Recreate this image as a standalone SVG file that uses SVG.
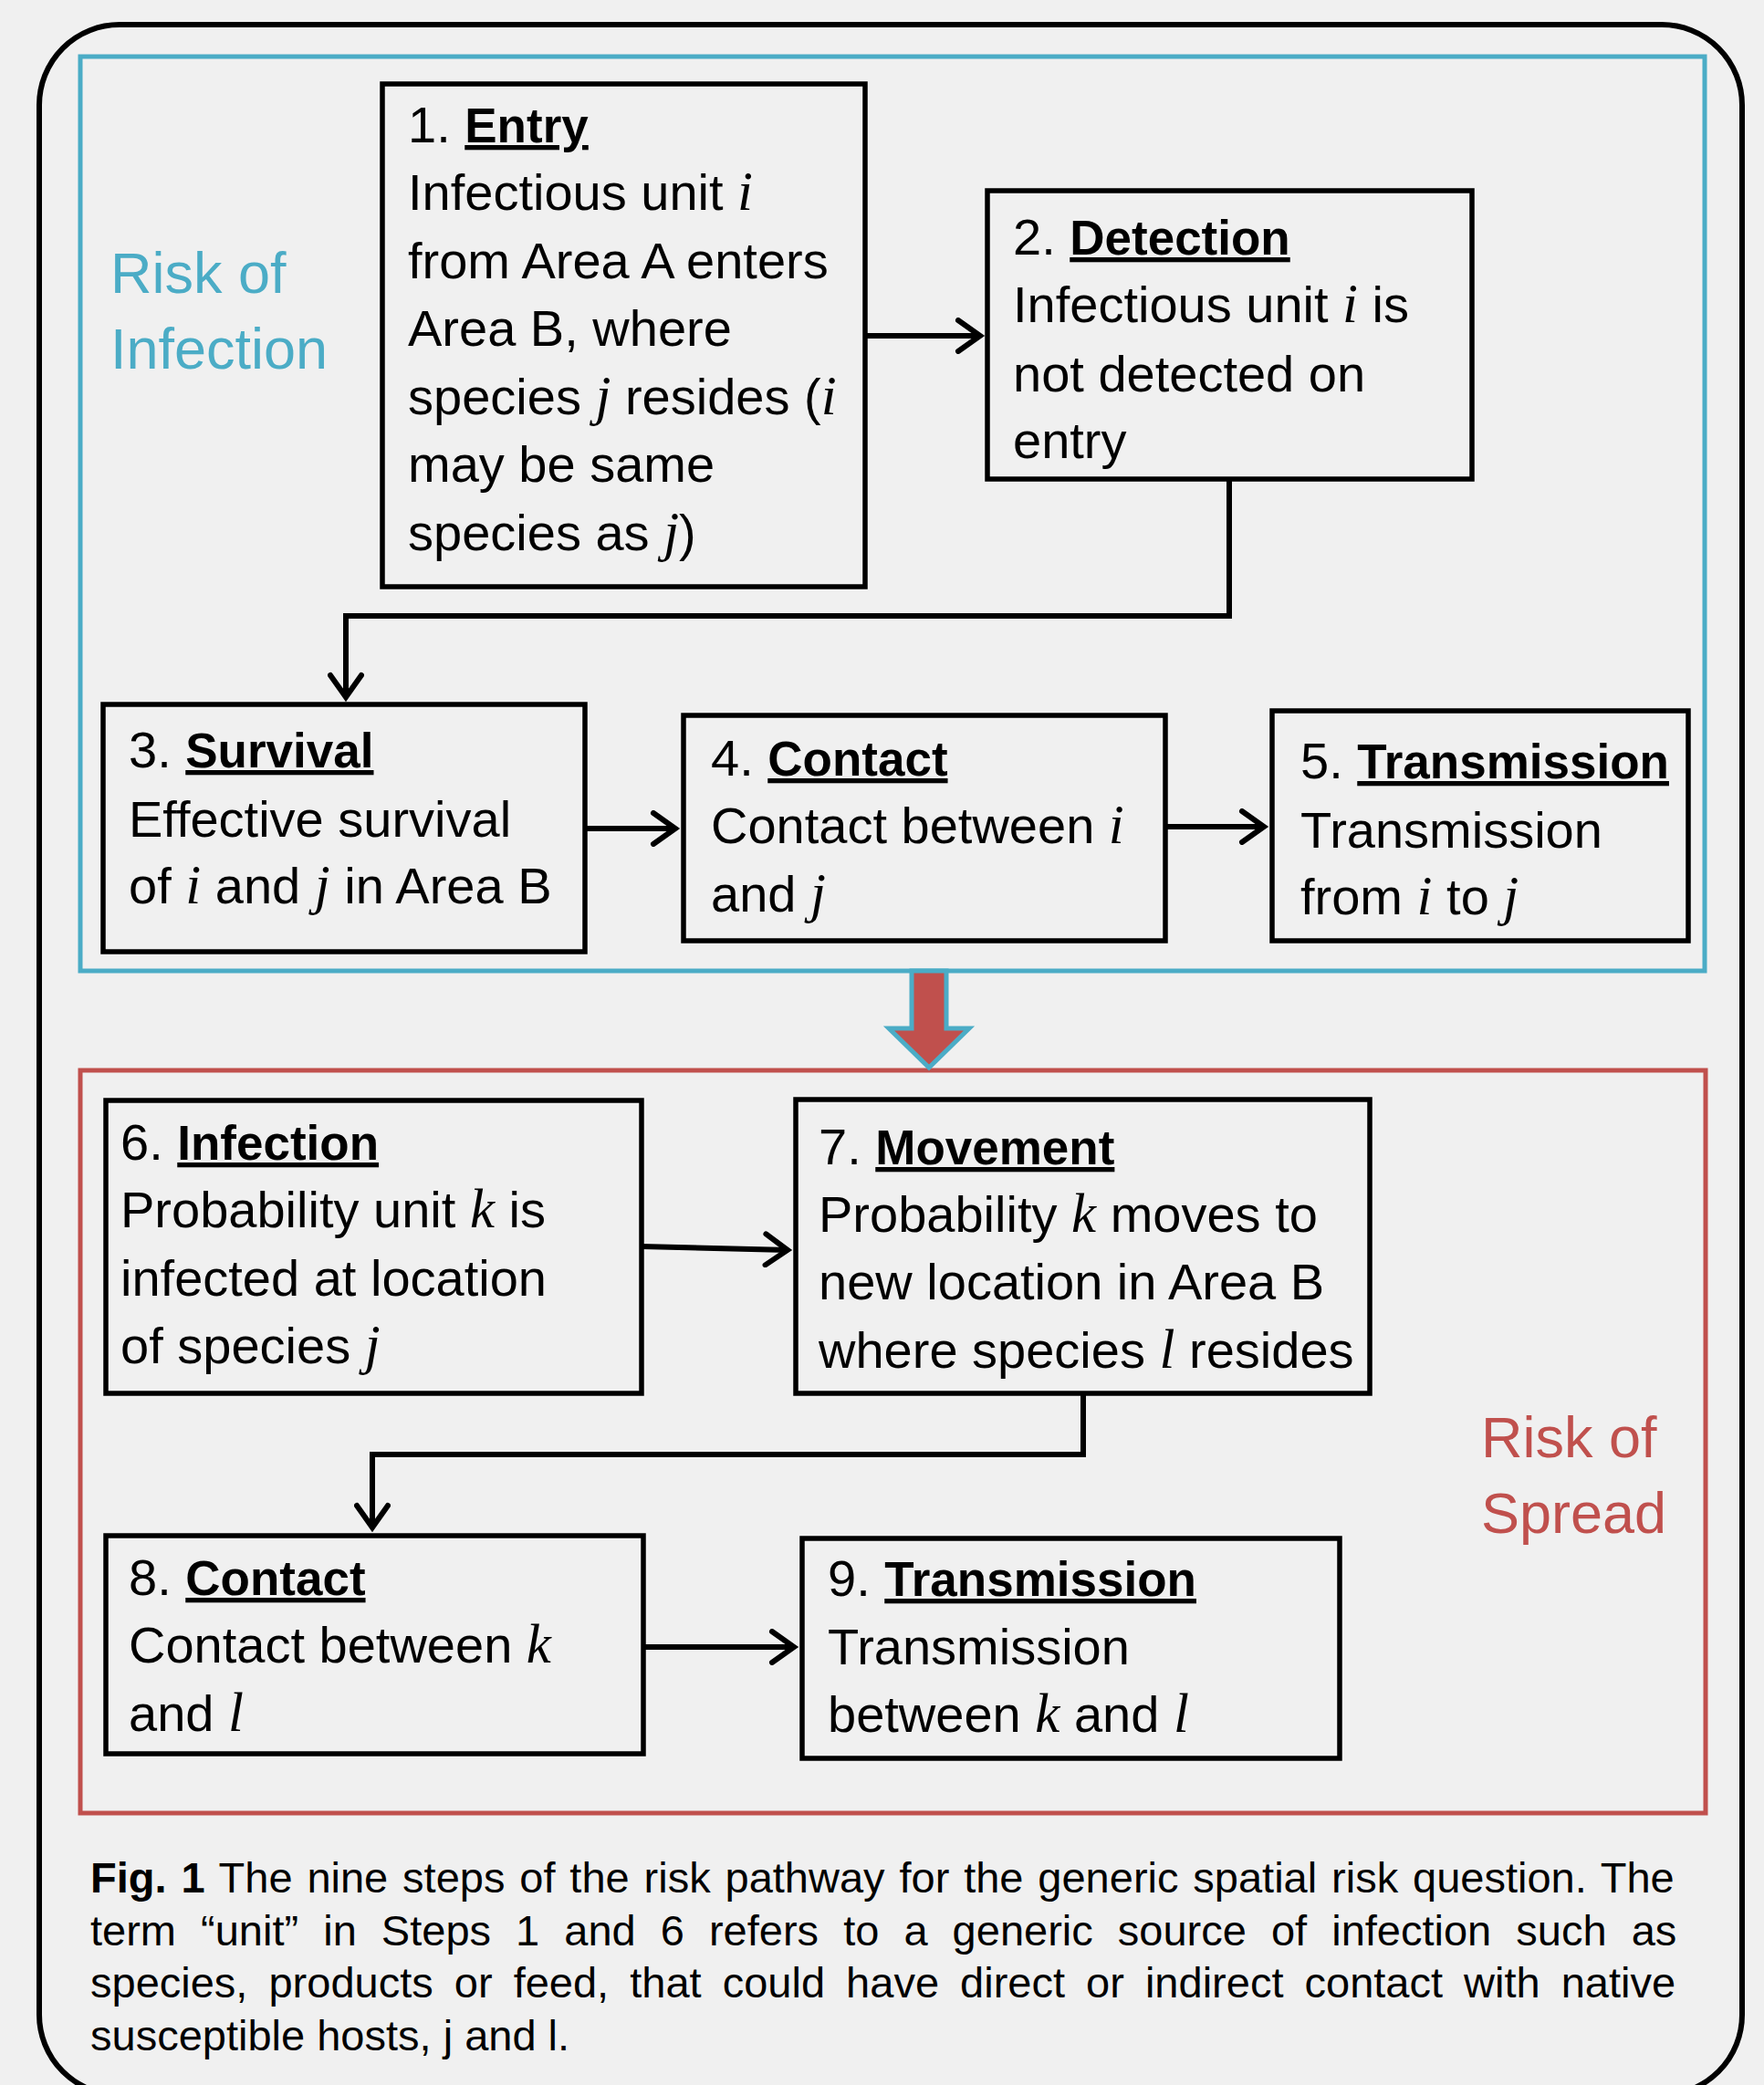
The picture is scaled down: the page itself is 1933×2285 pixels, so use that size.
<svg xmlns="http://www.w3.org/2000/svg" width="1933" height="2285" viewBox="0 0 1933 2285">
<defs>
<style>
.bg{fill:#F0F0F0}
.frame{fill:none;stroke:#000;stroke-width:6}
.blue{fill:none;stroke:#4BACC6;stroke-width:5}
.red{fill:none;stroke:#C0504D;stroke-width:5}
.box{fill:none;stroke:#000;stroke-width:5.5}
.t{font-family:"Liberation Sans",Arial,sans-serif;font-size:56px;fill:#000}
.b{font-weight:bold;text-decoration:underline;font-size:53px}
.v{font-family:"Liberation Serif","Times New Roman",serif;font-style:italic;font-size:61px}
.lbl{font-family:"Liberation Sans",Arial,sans-serif;font-size:63px}
.cap{font-family:"Liberation Sans",Arial,sans-serif;font-size:47px;fill:#000}
.conn{fill:none;stroke:#000;stroke-width:6;stroke-linejoin:miter;marker-end:url(#ah)}
</style>
<marker id="ah" markerUnits="userSpaceOnUse" markerWidth="40" markerHeight="40" viewBox="0 0 40 40" refX="31" refY="20" orient="auto">
<path d="M6,3 L30,20 L6,37" fill="none" stroke="#000" stroke-width="6" stroke-linecap="round" stroke-linejoin="miter"/>
</marker>
</defs>
<rect class="bg" x="0" y="0" width="1933" height="2285"/>
<rect class="frame" x="43" y="27" width="1866" height="2269" rx="88" ry="88"/>

<g id="region-infection">
<rect class="blue" x="88" y="62" width="1780" height="1002"/>
<text class="lbl" fill="#4BACC6"><tspan x="121" y="321">Risk of</tspan><tspan x="121" y="404">Infection</tspan></text>
</g>
<g id="region-spread">
<rect class="red" x="88" y="1173" width="1781" height="814"/>
<text class="lbl" fill="#C0504D"><tspan x="1623" y="1597">Risk of</tspan><tspan x="1623" y="1680">Spread</tspan></text>
</g>

<g id="transition-arrow">
<path d="M999,1064 L1037,1064 L1037,1127 L1062,1127 L1018,1170 L974,1127 L999,1127 Z" fill="#C0504D" stroke="#4BACC6" stroke-width="5" stroke-linejoin="miter"/>
</g>

<g id="connectors">
<path class="conn" d="M948,368 H1075"/>
<path class="conn" d="M1347,525 V675 H379 V765"/>
<path class="conn" d="M641,908 H741"/>
<path class="conn" d="M1277,906 H1386"/>
<path class="conn" d="M703,1366 L864,1370"/>
<path class="conn" d="M1187,1527 V1594 H408 V1675"/>
<path class="conn" d="M705,1805 H871"/>
</g>

<g id="node1">
<rect class="box" x="419" y="92" width="529" height="551"/>
<text class="t"><tspan x="447" y="156">1. <tspan class="b">Entry</tspan></tspan>
<tspan x="447" y="230">Infectious unit <tspan class="v">i</tspan></tspan>
<tspan x="447" y="305">from Area A enters</tspan>
<tspan x="447" y="379">Area B, where</tspan>
<tspan x="447" y="454">species <tspan class="v">j</tspan> resides (<tspan class="v">i</tspan></tspan>
<tspan x="447" y="528">may be same</tspan>
<tspan x="447" y="603">species as <tspan class="v">j</tspan>)</tspan></text>
</g>
<g id="node2">
<rect class="box" x="1082" y="209" width="531" height="316"/>
<text class="t"><tspan x="1110" y="279">2. <tspan class="b">Detection</tspan></tspan>
<tspan x="1110" y="353">Infectious unit <tspan class="v">i</tspan> is</tspan>
<tspan x="1110" y="429">not detected on</tspan>
<tspan x="1110" y="502">entry</tspan></text>
</g>
<g id="node3">
<rect class="box" x="113" y="772" width="528" height="271"/>
<text class="t"><tspan x="141" y="841">3. <tspan class="b">Survival</tspan></tspan>
<tspan x="141" y="917">Effective survival</tspan>
<tspan x="141" y="990">of <tspan class="v">i</tspan> and <tspan class="v">j</tspan> in Area B</tspan></text>
</g>
<g id="node4">
<rect class="box" x="749" y="784" width="528" height="247"/>
<text class="t"><tspan x="779" y="850">4. <tspan class="b">Contact</tspan></tspan>
<tspan x="779" y="924">Contact between <tspan class="v">i</tspan></tspan>
<tspan x="779" y="999">and <tspan class="v">j</tspan></tspan></text>
</g>
<g id="node5">
<rect class="box" x="1394" y="779" width="456" height="252"/>
<text class="t"><tspan x="1425" y="853">5. <tspan class="b">Transmission</tspan></tspan>
<tspan x="1425" y="929">Transmission</tspan>
<tspan x="1425" y="1002">from <tspan class="v">i</tspan> to <tspan class="v">j</tspan></tspan></text>
</g>
<g id="node6">
<rect class="box" x="116" y="1206" width="587" height="321"/>
<text class="t"><tspan x="132" y="1271">6. <tspan class="b">Infection</tspan></tspan>
<tspan x="132" y="1345">Probability unit <tspan class="v">k</tspan> is</tspan>
<tspan x="132" y="1420">infected at location</tspan>
<tspan x="132" y="1494">of species <tspan class="v">j</tspan></tspan></text>
</g>
<g id="node7">
<rect class="box" x="872" y="1205" width="629" height="322"/>
<text class="t"><tspan x="897" y="1276">7. <tspan class="b">Movement</tspan></tspan>
<tspan x="897" y="1350">Probability <tspan class="v">k</tspan> moves to</tspan>
<tspan x="897" y="1424">new location in Area B</tspan>
<tspan x="897" y="1499">where species <tspan class="v">l</tspan> resides</tspan></text>
</g>
<g id="node8">
<rect class="box" x="116" y="1683" width="589" height="239"/>
<text class="t"><tspan x="141" y="1748">8. <tspan class="b">Contact</tspan></tspan>
<tspan x="141" y="1822">Contact between <tspan class="v">k</tspan></tspan>
<tspan x="141" y="1897">and <tspan class="v">l</tspan></tspan></text>
</g>
<g id="node9">
<rect class="box" x="879" y="1686" width="589" height="241"/>
<text class="t"><tspan x="907" y="1749">9. <tspan class="b">Transmission</tspan></tspan>
<tspan x="907" y="1824">Transmission</tspan>
<tspan x="907" y="1898">between <tspan class="v">k</tspan> and <tspan class="v">l</tspan></tspan></text>
</g>

<g id="caption">
<text class="cap" x="99" y="2074" word-spacing="2.8"><tspan font-weight="bold">Fig. 1</tspan> The nine steps of the risk pathway for the generic spatial risk question. The</text>
<text class="cap" x="99" y="2132" word-spacing="14">term “unit” in Steps 1 and 6 refers to a generic source of infection such as</text>
<text class="cap" x="99" y="2189" word-spacing="10">species, products or feed, that could have direct or indirect contact with native</text>
<text class="cap" x="99" y="2247">susceptible hosts, j and l.</text>
</g>
</svg>
